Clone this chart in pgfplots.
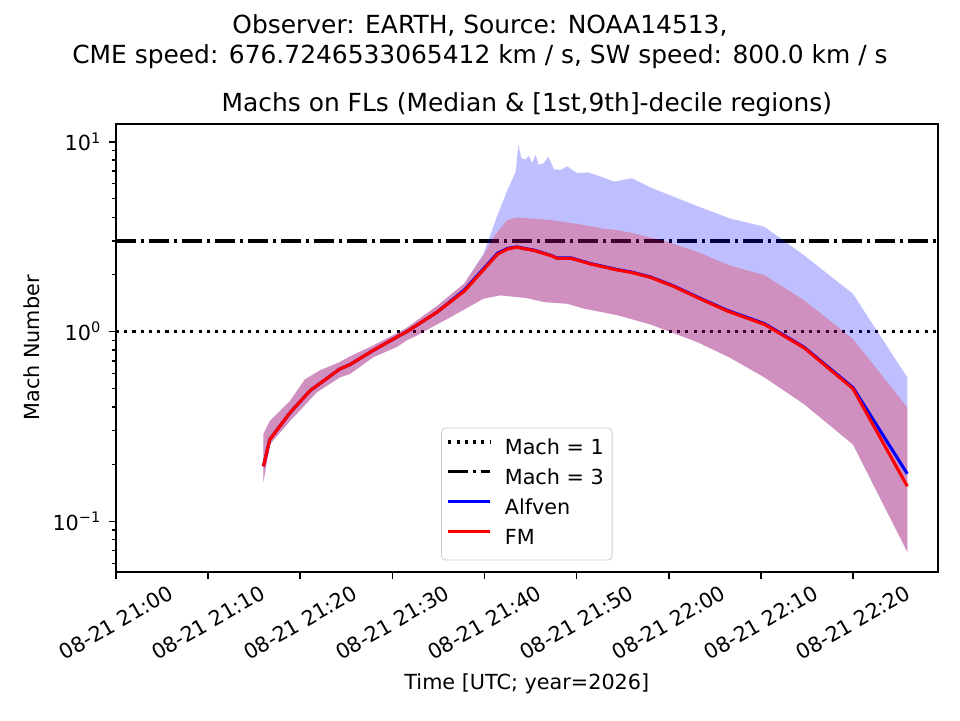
\documentclass[border=0pt]{standalone}
\usepackage{fontspec}
\setmainfont{DejaVu Sans}
\usepackage{pgfplots}
\usepackage{pgfplotstable}
\pgfplotsset{compat=1.18}

% time in minutes after 21:00 UTC
\pgfplotstableread{
t v
16.0 0.195
16.7 0.27
18.9 0.374
21.1 0.49
21.8 0.518
24.3 0.635
25.4 0.67
27.9 0.794
30.9 0.96
31.6 1.0
34.9 1.27
37.8 1.65
41.4 2.58
42.5 2.74
43.5 2.79
44.0 2.76
45.4 2.68
47.2 2.52
47.9 2.44
49.4 2.44
51.5 2.28
54.4 2.12
55.9 2.06
58.0 1.94
60.4 1.75
63.5 1.49
66.4 1.29
70.4 1.10
74.7 0.826
80.0 0.507
85.9 0.178
}\medA

\pgfplotstableread{
t v
16.0 0.195
16.7 0.27
18.9 0.374
21.1 0.49
21.8 0.518
24.3 0.635
25.4 0.67
27.9 0.794
30.9 0.96
31.6 1.0
34.9 1.27
37.8 1.63
41.4 2.55
42.5 2.72
43.5 2.78
44.0 2.75
45.4 2.67
47.2 2.51
47.9 2.43
49.4 2.43
51.5 2.27
54.4 2.11
55.9 2.05
58.0 1.93
60.4 1.74
63.5 1.48
66.4 1.28
70.4 1.09
74.7 0.82
80.0 0.50
85.9 0.153
}\medF

% Alfven band: 9th decile (forward) then 1st decile (backward)
\pgfplotstableread{
t v
16.0 0.288
16.7 0.338
18.9 0.431
20.5 0.56
21.8 0.61
22.2 0.627
24.3 0.69
25.4 0.74
27.9 0.843
30.5 0.98
31.6 1.05
34.9 1.37
37.8 1.79
39.9 2.58
41.35 4.03
42.5 5.57
43.4 6.97
43.67 9.64
44.0 8.2
44.46 8.04
44.82 8.43
45.18 7.71
45.54 8.53
45.9 7.55
46.45 7.71
46.92 8.36
47.53 7.16
48.26 7.1
48.98 7.41
50.07 6.82
51.2 6.9
52.6 6.55
54.1 6.16
56.0 6.42
58.2 5.69
63.5 4.5
66.6 3.95
70.4 3.56
74.7 2.52
80.0 1.58
85.9 0.573
85.9 0.069
80.0 0.254
74.7 0.414
70.4 0.573
66.6 0.73
63.1 0.88
58.0 1.09
54.4 1.22
50.8 1.32
49.0 1.40
46.45 1.43
44.6 1.50
43.5 1.52
41.7 1.55
39.9 1.49
36.3 1.19
32.6 0.95
31.6 0.9
30.5 0.83
27.9 0.731
25.4 0.597
24.3 0.573
21.8 0.478
18.9 0.338
16.7 0.254
16.0 0.16
}\bandA

% FM band: 9th decile (forward) then 1st decile (backward)
\pgfplotstableread{
t v
16.0 0.288
16.7 0.338
18.9 0.431
20.5 0.56
21.8 0.61
22.2 0.627
24.3 0.69
25.4 0.74
27.9 0.843
30.5 0.98
31.6 1.05
34.9 1.37
37.8 1.79
39.9 2.52
41.0 3.16
42.5 3.87
43.5 3.99
47.2 3.87
50.8 3.64
52.6 3.5
54.4 3.42
56.2 3.29
58.0 3.13
59.8 2.97
63.1 2.63
66.6 2.23
70.4 1.98
74.7 1.46
80.0 0.914
85.9 0.398
85.9 0.069
80.0 0.254
74.7 0.414
70.4 0.573
66.6 0.73
63.1 0.88
58.0 1.09
54.4 1.22
50.8 1.32
49.0 1.40
46.45 1.43
44.6 1.50
43.5 1.52
41.7 1.55
39.9 1.49
36.3 1.19
32.6 0.95
31.6 0.9
30.5 0.83
27.9 0.731
25.4 0.597
24.3 0.573
21.8 0.478
18.9 0.338
16.7 0.254
16.0 0.16
}\bandF

\begin{document}
\begin{tikzpicture}
\useasboundingbox (0,0) rectangle (6.4in,4.8in);
\begin{axis}[
  at={(0.7733in,0.9867in)}, anchor=south west,
  scale only axis, width=5.478in, height=2.987in,
  xmin=0, xmax=89.2,
  ymode=log, ymin=0.0541, ymax=12.4,
  axis line style={line width=0.8pt},
  tick align=outside,
  major tick length=3.5pt, minor tick length=2pt,
  every tick/.style={black, line width=0.8pt},
  every minor tick/.style={black, line width=0.6pt},
  xtick={0,10,20,30,40,50,60,70,80},
  xticklabels={08-21 21:00,08-21 21:10,08-21 21:20,08-21 21:30,08-21 21:40,08-21 21:50,08-21 22:00,08-21 22:10,08-21 22:20},
  xticklabel style={font=\fontsize{10}{12}\selectfont, yshift=-20.9pt, rotate=30, anchor=center},
  ytick={0.1,1,10},
  yticklabels={10\textsuperscript{−1},10\textsuperscript{0},10\textsuperscript{1}},
  minor ytick={0.06,0.07,0.08,0.09,0.2,0.3,0.4,0.5,0.6,0.7,0.8,0.9,2,3,4,5,6,7,8,9},
  yticklabel style={font=\fontsize{10}{12}\selectfont},
  xtick pos=bottom, ytick pos=left,
  xlabel={Time [UTC; year=2026]},
  ylabel={Mach Number},
  every axis x label/.style={at={(axis description cs:0.5,-0.249)}, anchor=center, font=\fontsize{10}{12}\selectfont},
  every axis y label/.style={at={(axis description cs:-0.1026,0.5)}, rotate=90, anchor=center, font=\fontsize{10}{12}\selectfont},
  title={Machs on FLs (Median \& [1st,9th]-decile regions)},
  every axis title shift=0pt,
  title style={at={(axis description cs:0.5,1.028)}, anchor=base, font=\fontsize{12}{14.4}\selectfont},
  legend style={at={(axis description cs:0.5,0.0257)}, anchor=south,
    draw=black!20, rounded corners=2pt, fill=white, fill opacity=0.8, text opacity=1,
    font=\fontsize{10}{12}\selectfont,
    inner xsep=2.5pt, inner ysep=3pt, row sep=0pt, column sep=5pt,
    nodes={inner xsep=1.5pt, inner ysep=1.95pt, text height=8pt, text depth=2.5pt}},
  legend cell align=left,
  legend image code/.code={\draw[#1] (0pt,0.35em) -- (20pt,0.35em);},
]
\addplot[black, line width=1.5pt, line cap=butt, dash pattern=on 1.5pt off 2.475pt] coordinates {(0,1) (89.2,1)};
\addlegendentry{Mach = 1}
\addplot[black, line width=1.5pt, line cap=butt, dash pattern=on 9.6pt off 2.4pt on 1.5pt off 2.4pt] coordinates {(0,3) (89.2,3)};
\addlegendentry{Mach = 3}

\addplot[fill=blue, fill opacity=0.25, draw=none, forget plot] table[x=t,y=v]{\bandA} -- cycle;
\addplot[fill=red, fill opacity=0.25, draw=none, forget plot] table[x=t,y=v]{\bandF} -- cycle;

\addplot[blue, line width=1.5pt, line join=round] table[x=t,y=v]{\medA};
\addlegendentry{Alfven}
\addplot[red, line width=1.5pt, line join=round] table[x=t,y=v]{\medF};
\addlegendentry{FM}
\end{axis}
\node[anchor=north, inner sep=0pt, align=center, font=\fontsize{12}{14.4}\selectfont] at (3.2in,4.704in)
  {Observer: EARTH, Source: NOAA14513,\\CME speed: 676.7246533065412 km / s, SW speed: 800.0 km / s};
\end{tikzpicture}
\end{document}
